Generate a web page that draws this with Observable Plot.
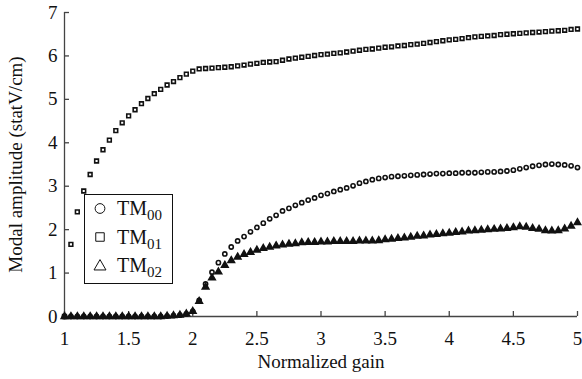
<!DOCTYPE html>
<html>
<head>
<meta charset="utf-8">
<script src="https://cdn.jsdelivr.net/npm/d3@7"></script>
<script src="https://cdn.jsdelivr.net/npm/@observablehq/plot@0.6"></script>
<style>
  body { margin: 0; background: #fff; }
  #chart { position: relative; width: 582px; height: 379px; }
  #chart svg { position: absolute; left: 0; top: 0; }
</style>
</head>
<body>
<div id="chart"></div>
<script>
// Normalized gain sampled in steps of 0.05
const gain = [
  1.00, 1.05, 1.10, 1.15, 1.20, 1.25, 1.30, 1.35, 1.40, 1.45,
  1.50, 1.55, 1.60, 1.65, 1.70, 1.75, 1.80, 1.85, 1.90, 1.95,
  2.00, 2.05, 2.10, 2.15, 2.20, 2.25, 2.30, 2.35, 2.40, 2.45,
  2.50, 2.55, 2.60, 2.65, 2.70, 2.75, 2.80, 2.85, 2.90, 2.95,
  3.00, 3.05, 3.10, 3.15, 3.20, 3.25, 3.30, 3.35, 3.40, 3.45,
  3.50, 3.55, 3.60, 3.65, 3.70, 3.75, 3.80, 3.85, 3.90, 3.95,
  4.00, 4.05, 4.10, 4.15, 4.20, 4.25, 4.30, 4.35, 4.40, 4.45,
  4.50, 4.55, 4.60, 4.65, 4.70, 4.75, 4.80, 4.85, 4.90, 4.95,
  5.00
];

// Modal amplitudes (statV/cm)
const tm00 = [
  0, 0, 0, 0, 0, 0, 0, 0, 0, 0,
  0, 0, 0, 0, 0, 0, 0.01, 0.02, 0.03, 0.06,
  0.12, 0.37, 0.75, 1.02, 1.24, 1.44, 1.60, 1.74, 1.84, 1.95,
  2.05, 2.15, 2.25, 2.33, 2.43, 2.49, 2.56, 2.62, 2.68, 2.73,
  2.79, 2.83, 2.88, 2.92, 2.96, 3.01, 3.07, 3.11, 3.15, 3.18,
  3.20, 3.22, 3.23, 3.24, 3.25, 3.26, 3.27, 3.28, 3.29, 3.29,
  3.30, 3.30, 3.31, 3.31, 3.31, 3.32, 3.33, 3.33, 3.34, 3.35,
  3.37, 3.40, 3.43, 3.46, 3.48, 3.50, 3.51, 3.50, 3.49, 3.47,
  3.43
];

const tm01 = [
  0, 1.66, 2.41, 2.89, 3.27, 3.58, 3.84, 4.06, 4.28, 4.46,
  4.62, 4.76, 4.90, 5.02, 5.13, 5.23, 5.33, 5.41, 5.50, 5.58,
  5.65, 5.70, 5.71, 5.72, 5.73, 5.74, 5.75, 5.77, 5.79, 5.81,
  5.83, 5.85, 5.86, 5.87, 5.90, 5.93, 5.95, 5.97, 5.99, 6.01,
  6.03, 6.04, 6.06, 6.07, 6.09, 6.11, 6.13, 6.15, 6.16, 6.18,
  6.20, 6.21, 6.23, 6.24, 6.26, 6.27, 6.29, 6.31, 6.33, 6.35,
  6.37, 6.38, 6.40, 6.42, 6.44, 6.45, 6.46, 6.47, 6.49, 6.50,
  6.51, 6.52, 6.53, 6.54, 6.55, 6.56, 6.57, 6.58, 6.59, 6.61,
  6.62
];

const tm02 = [
  0, 0, 0, 0, 0, 0, 0, 0, 0, 0,
  0, 0, 0, 0, 0, 0, 0.01, 0.02, 0.03, 0.06,
  0.12, 0.35, 0.68, 0.89, 1.03, 1.18, 1.29, 1.37, 1.43, 1.48,
  1.53, 1.57, 1.60, 1.63, 1.65, 1.67, 1.68, 1.70, 1.71, 1.71,
  1.72, 1.72, 1.73, 1.73, 1.73, 1.73, 1.74, 1.74, 1.74, 1.75,
  1.77, 1.78, 1.80, 1.81, 1.83, 1.85, 1.86, 1.88, 1.89, 1.91,
  1.92, 1.94, 1.95, 1.97, 1.98, 1.99, 2.00, 2.01, 2.02, 2.03,
  2.05, 2.07, 2.06, 2.03, 2.01, 1.98, 1.97, 1.98, 2.02, 2.08,
  2.16
];

const xTicks = [1, 1.5, 2, 2.5, 3, 3.5, 4, 4.5, 5];
const yTicks = [0, 1, 2, 3, 4, 5, 6, 7];

const modes = [
  {name: "TM", sub: "00", symbol: "circle", values: tm00},
  {name: "TM", sub: "01", symbol: "square", values: tm01},
  {name: "TM", sub: "02", symbol: "triangle", values: tm02}
];

const ink = "#111";
const axisInk = "#444";
const serif = "'Liberation Serif', 'Times New Roman', serif";

const pointsOf = (m) => gain.map((g, i) => ({gain: g, amp: m.values[i]}));

const dotStyle = {r: 2.1, stroke: ink, strokeWidth: 1.6, fill: "white"};

const chart = Plot.plot({
  width: 582,
  height: 379,
  marginLeft: 64,
  marginRight: 5,
  marginTop: 12,
  marginBottom: 63,
  style: {fontFamily: serif, fontSize: "19px", background: "white", color: ink},
  x: {domain: [1, 5]},
  y: {domain: [0, 7]},
  marks: [
    Plot.ruleX([1], {stroke: axisInk, strokeWidth: 1.3}),
    Plot.ruleY([0], {stroke: axisInk, strokeWidth: 1.3}),
    Plot.axisX(xTicks, {
      tickSize: -5, tickPadding: 20, stroke: axisInk, strokeWidth: 1.3,
      tickFormat: (d) => String(d),
      label: "Normalized gain", labelArrow: "none", labelAnchor: "center", labelOffset: 51
    }),
    Plot.axisY(yTicks, {
      tickSize: -5, tickPadding: 12, stroke: axisInk, strokeWidth: 1.3,
      tickFormat: (d) => String(d),
      label: "Modal amplitude (statV/cm)", labelArrow: "none", labelAnchor: "center", labelOffset: 56
    }),
    Plot.dot(pointsOf(modes[1]), {x: "gain", y: "amp", symbol: "square", ...dotStyle}),
    Plot.dot(pointsOf(modes[0]), {x: "gain", y: "amp", symbol: "circle", ...dotStyle}),
    Plot.dot(pointsOf(modes[2]), {x: "gain", y: "amp", symbol: "triangle", ...dotStyle, r: 2.4, fill: ink})
  ]
});

const root = document.getElementById("chart");
root.appendChild(chart);

// Legend box drawn over the lower-left of the plot area
const legend = d3.select(root).append("svg")
  .attr("width", 582).attr("height", 379)
  .style("font-family", serif);

legend.append("rect")
  .attr("x", 84.5).attr("y", 194.5).attr("width", 88).attr("height", 89)
  .attr("fill", "white").attr("stroke", ink).attr("stroke-width", 1);

const symbolPath = {
  circle: d3.symbol(d3.symbolCircle, 75)(),
  square: d3.symbol(d3.symbolSquare, 72)(),
  triangle: d3.symbol(d3.symbolTriangle, 62)()
};

modes.forEach((m, i) => {
  const cy = 208.5 + i * 28.5;
  legend.append("path")
    .attr("transform", `translate(100,${cy + (m.symbol === "triangle" ? 1 : 0)})`)
    .attr("d", symbolPath[m.symbol])
    .attr("fill", "none").attr("stroke", ink).attr("stroke-width", 1);
  const t = legend.append("text")
    .attr("x", 117).attr("y", cy + 6.5)
    .attr("font-size", 20).attr("fill", ink);
  t.append("tspan").text(m.name);
  t.append("tspan").attr("font-size", 15).attr("dy", 5).text(m.sub);
});
</script>
</body>
</html>
